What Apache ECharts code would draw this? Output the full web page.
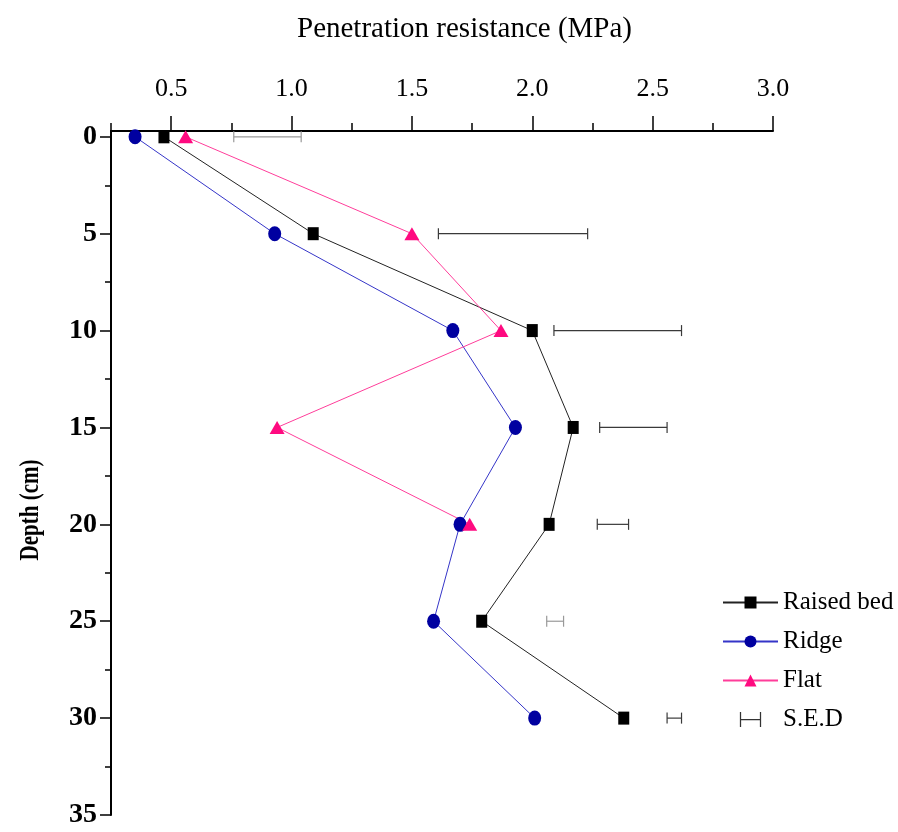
<!DOCTYPE html>
<html>
<head>
<meta charset="utf-8">
<script src="https://cdn.jsdelivr.net/npm/echarts@6/dist/echarts.min.js"></script>
<style>
html, body { margin: 0; padding: 0; background: #fff; }
#main { width: 898px; height: 832px; }
</style>
</head>
<body>
<div id="main"></div>
<script>
var depths = [0, 5, 10, 15, 20, 25, 30];
var raisedBed = [0.47, 1.09, 2.00, 2.17, 2.07, 1.79, 2.38];
var ridge = [0.35, 0.93, 1.67, 1.93, 1.70, 1.59, 2.01];
var flat = [0.56, 1.50, 1.87, 0.94, 1.74];
// S.E.D bars: [low, high] at each depth
var sedLow = [0.76, 1.61, 2.09, 2.28, 2.27, 2.06, 2.56];
var sedHigh = [1.04, 2.23, 2.62, 2.56, 2.40, 2.13, 2.62];
var xLabels = [0.5, 1.0, 1.5, 2.0, 2.5, 3.0];
var xMinor = [0.25, 0.75, 1.25, 1.75, 2.25, 2.75];
var yLabels = [0, 5, 10, 15, 20, 25, 30, 35];
var yMinor = [2.5, 7.5, 12.5, 17.5, 22.5, 27.5, 32.5];

var myChart = echarts.init(document.getElementById('main'));

function pairs(vals) {
    return vals.map(function (v, i) { return [v, depths[i]]; });
}

var serif = 'Liberation Serif';

var option = {
    animation: false,
    title: {
        text: 'Penetration resistance (MPa)',
        left: 292,
        top: 10,
        textStyle: { fontFamily: serif, fontSize: 29, fontWeight: 'normal', color: '#000' }
    },
    graphic: [{
        type: 'text',
        x: 31,
        y: 510,
        rotation: Math.PI / 2,
        scaleY: 1.3,
        style: {
            text: 'Depth (cm)',
            font: 'bold 21px "Liberation Serif"',
            fill: '#000',
            textAlign: 'center',
            textVerticalAlign: 'middle'
        }
    }],
    legend: {
        orient: 'vertical',
        left: 717,
        top: 585,
        itemWidth: 55,
        itemHeight: 15,
        itemGap: 14,
        textStyle: { fontFamily: serif, fontSize: 25, color: '#000' },
        data: [
            'Raised bed', 'Ridge', 'Flat',
            {
                name: 'S.E.D',
                icon: 'path://M0,0h1v12h-1z M1,5.5h15v1h-15z M16,0h1v12h-1z',
                itemStyle: { color: '#333' }
            }
        ]
    },
    grid: { left: 111, right: 125, top: 131, bottom: 17 },
    xAxis: [{
        type: 'value',
        position: 'top',
        min: 0.25,
        max: 3,
        splitLine: { show: false },
        axisLine: { onZero: false, lineStyle: { color: '#000', width: 2 } },
        axisTick: { customValues: xLabels, length: 15, lineStyle: { color: '#000', width: 1.5 } },
        axisLabel: {
            customValues: xLabels,
            margin: 29,
            fontFamily: serif,
            fontSize: 26,
            color: '#000',
            formatter: function (v) { return v.toFixed(1); }
        }
    }, {
        type: 'value',
        position: 'top',
        min: 0.25,
        max: 3,
        splitLine: { show: false },
        axisLine: { show: false, onZero: false },
        axisTick: { customValues: xMinor, length: 8, lineStyle: { color: '#000', width: 1.5 } },
        axisLabel: { show: false }
    }],
    yAxis: [{
        type: 'value',
        inverse: true,
        min: -0.3,
        max: 35,
        splitLine: { show: false },
        axisLine: { show: true, onZero: false, lineStyle: { color: '#000', width: 2 } },
        axisTick: { show: true, customValues: yLabels, length: 11, lineStyle: { color: '#000', width: 1.5 } },
        axisLabel: {
            customValues: yLabels,
            margin: 14,
            fontFamily: serif,
            fontSize: 28,
            fontWeight: 'bold',
            color: '#000'
        }
    }, {
        type: 'value',
        inverse: true,
        min: -0.3,
        max: 35,
        position: 'left',
        splitLine: { show: false },
        axisLine: { show: false, onZero: false },
        axisTick: { show: true, customValues: yMinor, length: 6, lineStyle: { color: '#000', width: 1.5 } },
        axisLabel: { show: false }
    }],
    series: [{
        name: 'Raised bed',
        type: 'line',
        data: pairs(raisedBed),
        symbol: 'rect',
        symbolSize: [11, 13],
        lineStyle: { color: '#222', width: 1 },
        itemStyle: { color: '#000' }
    }, {
        name: 'Ridge',
        type: 'line',
        data: pairs(ridge),
        symbol: 'circle',
        symbolSize: [13, 15],
        lineStyle: { color: '#3535c8', width: 1 },
        itemStyle: { color: '#0000a0' }
    }, {
        name: 'Flat',
        type: 'line',
        data: pairs(flat),
        symbol: 'triangle',
        symbolSize: [15, 13],
        lineStyle: { color: '#ff3d9a', width: 1 },
        itemStyle: { color: '#ff0a80' }
    }, {
        name: 'S.E.D',
        type: 'custom',
        itemStyle: { color: '#333' },
        data: depths.map(function (d, i) { return [sedLow[i], sedHigh[i], d]; }),
        renderItem: function (params, api) {
            var a = api.coord([api.value(0), api.value(2)]);
            var b = api.coord([api.value(1), api.value(2)]);
            var h = 5.5;
            var i = params.dataIndex;
            var c = (i === 0 || i === 5) ? '#999' : '#3a3a3a';
            var st = { stroke: c, lineWidth: 1.2 };
            return {
                type: 'group',
                children: [
                    { type: 'line', shape: { x1: a[0], y1: a[1], x2: b[0], y2: b[1] }, style: st },
                    { type: 'line', shape: { x1: a[0], y1: a[1] - h, x2: a[0], y2: a[1] + h }, style: st },
                    { type: 'line', shape: { x1: b[0], y1: b[1] - h, x2: b[0], y2: b[1] + h }, style: st }
                ]
            };
        }
    }]
};
myChart.setOption(option);
</script>
</body>
</html>
